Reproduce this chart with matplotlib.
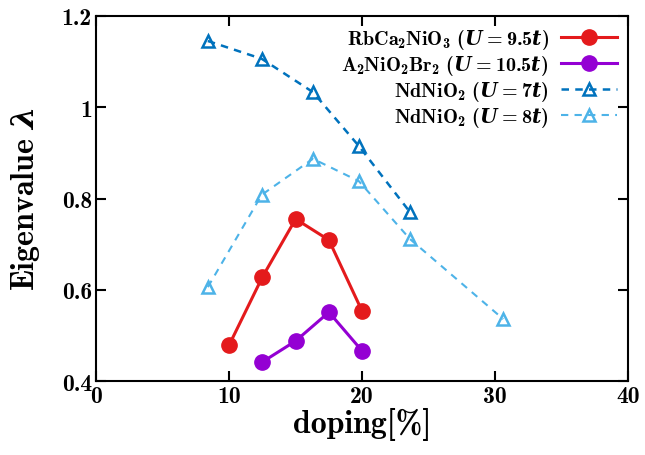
import matplotlib
matplotlib.use("Agg")
import matplotlib.pyplot as plt

plt.rcParams['font.family'] = ['cmb10', 'DejaVu Serif']
plt.rcParams['mathtext.fontset'] = 'custom'
plt.rcParams['mathtext.rm'] = 'cmb10'
plt.rcParams['mathtext.it'] = 'DejaVu Serif:bold:italic'
plt.rcParams['mathtext.bf'] = 'cmb10'

# data
x_rb = [10, 12.5, 15, 17.5, 20]
y_rb = [0.479, 0.628, 0.755, 0.709, 0.553]
x_a2 = [12.5, 15, 17.5, 20]
y_a2 = [0.442, 0.488, 0.551, 0.466]
x_nd7 = [8.4, 12.45, 16.3, 19.75, 23.6]
y_nd7 = [1.145, 1.106, 1.033, 0.915, 0.77]
x_nd8 = [8.4, 12.45, 16.3, 19.75, 23.6, 30.6]
y_nd8 = [0.606, 0.808, 0.887, 0.838, 0.711, 0.536]

labels = [r"RbCa$_2$NiO$_3$ ($U=9.5t$)",
          r"A$_2$NiO$_2$Br$_2$ ($U=10.5t$)",
          r"NdNiO$_2$ ($U=7t$)",
          r"NdNiO$_2$ ($U=8t$)"]

fig = plt.figure(figsize=(6.45, 4.56), dpi=100)
ax = fig.add_axes([0.149, 0.162, 0.825, 0.801])

ax.plot(x_rb, y_rb, color='#e41a1c', marker='o', ms=11, lw=2.2, label=labels[0])
ax.plot(x_a2, y_a2, color='#9400d3', marker='o', ms=11, lw=2.2, label=labels[1])
ax.plot(x_nd7, y_nd7, color='#0072bd', marker='^', ms=8, mfc='none', mew=1.8,
        ls=(0, (3, 2.5)), lw=1.8, label=labels[2])
ax.plot(x_nd8, y_nd8, color='#4db3e8', marker='^', ms=8, mfc='none', mew=1.8,
        ls=(0, (3.5, 3)), lw=1.5, label=labels[3])

ax.set_xlim(0, 40)
ax.set_ylim(0.4, 1.2)
ax.set_xticks([0, 10, 20, 30, 40])
ax.set_yticks([0.4, 0.6, 0.8, 1.0, 1.2])
ax.set_yticklabels(['0.4', '0.6', '0.8', '1', '1.2'])
ax.tick_params(direction='in', length=7, width=1.5, labelsize=17, pad=3,
               top=True, right=True)
for s in ax.spines.values():
    s.set_linewidth(1.5)

ax.set_xlabel('doping[%]', fontsize=23, labelpad=0)
ax.set_ylabel(r'Eigenvalue $\lambda$', fontsize=23, labelpad=14)

ax.legend(loc='upper right', frameon=False, markerfirst=False, fontsize=14.5,
          handlelength=2.8, labelspacing=0.1, borderaxespad=0.15,
          handletextpad=0.6)

fig.savefig('out.png', dpi=100)
